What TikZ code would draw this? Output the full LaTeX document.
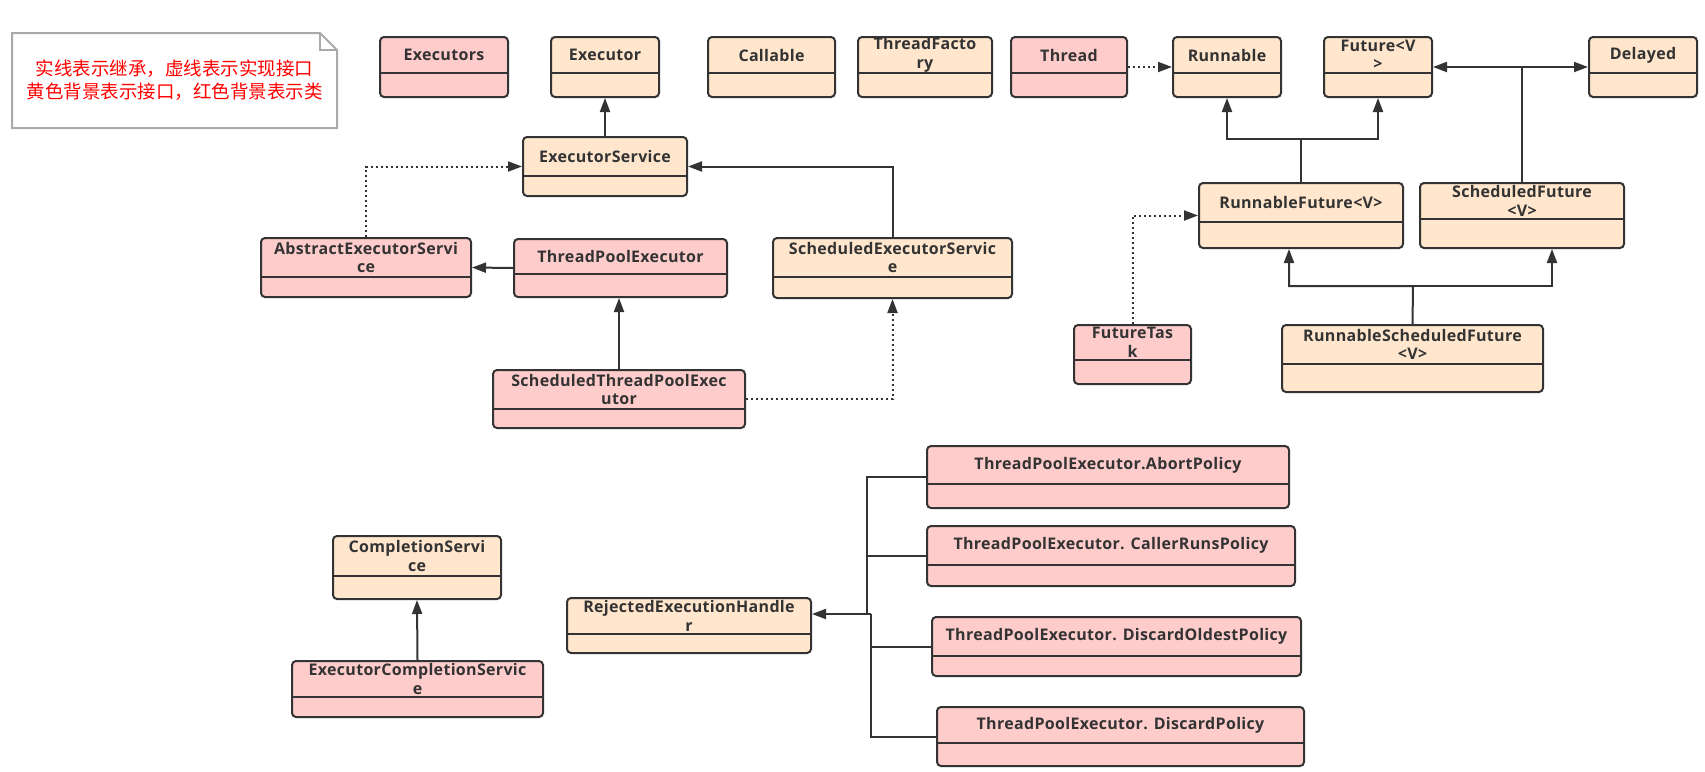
\documentclass[tikz,border=0pt]{standalone}
\usepackage{fontspec}
\setmainfont{Open Sans}[LetterSpace=2.0]
\newfontfamily\cjkfont{Noto Sans CJK SC}
\usetikzlibrary{arrows.meta}
\definecolor{pinkfill}{HTML}{FFCCCC}
\definecolor{yellowfill}{HTML}{FFE6CC}
\definecolor{linec}{HTML}{333333}
\definecolor{notegray}{HTML}{AAAAAA}
\definecolor{notered}{HTML}{FF0000}
\tikzset{
  umlshape/.style={draw=linec, line width=2pt, rounded corners=4pt, inner sep=0pt},
  cls/.style={fill=pinkfill},
  intf/.style={fill=yellowfill},
  divline/.style={draw=linec, line width=2pt},
  boxtext/.style={text=linec, font=\bfseries\fontsize{16}{18.5}\selectfont, align=center, inner sep=0pt},
  conn/.style={draw=linec, line width=2pt},
  inh/.style={conn, -{Triangle[length=14pt,width=10pt]}},
  impl/.style={inh, dash pattern=on 2pt off 3pt},
  notetext/.style={text=notered, font=\cjkfont\fontsize{18.5}{23}\selectfont, align=center, inner sep=0pt},
}
\newcommand\umlbox[8]{%
  \node[umlshape,#7,minimum width={#4-#2},minimum height={#5-#3}] (#1) at ({(#2+#4)/2},{(#3+#5)/2}) {};
  \draw[divline] (#2,#6) -- (#4,#6);
  \node[boxtext] (#1-label) at ({(#2+#4)/2},{(#3+#6)/2}) {#8};
}
\begin{document}
\begin{tikzpicture}[x=1pt,y=-1pt]
\useasboundingbox[fill=white] (0,0) rectangle (1705,771);

% note
\draw[notegray, line width=2pt, fill=white, line join=miter] (12,33) -- (320,33) -- (337,50) -- (337,128) -- (12,128) -- cycle;
\draw[notegray, line width=2pt] (320,33) -- (320,50) -- (337,50);
\node[notetext] (note) at (174.5,80.5) {实线表示继承，虚线表示实现接口\\黄色背景表示接口，红色背景表示类};

% top row
\umlbox{executors}{380}{37}{508}{97}{73}{cls}{Executors}
\umlbox{executor}{551}{37}{659}{97}{73}{intf}{Executor}
\umlbox{callable}{708}{37}{835}{97}{73}{intf}{Callable}
\umlbox{threadfactory}{858}{37}{992}{97}{73}{intf}{ThreadFacto\\ry}
\umlbox{thread}{1011}{37}{1127}{97}{73}{cls}{Thread}
\umlbox{runnable}{1173}{37}{1281}{97}{73}{intf}{Runnable}
\umlbox{future}{1324}{37}{1432}{97}{73}{intf}{Future<V\\>}
\umlbox{delayed}{1589}{37}{1697}{97}{73}{intf}{Delayed}

% executor family
\umlbox{es}{523}{137}{687}{196}{176}{intf}{ExecutorService}
\umlbox{aes}{261}{238}{471}{297}{277}{cls}{AbstractExecutorServi\\ce}
\umlbox{tpe}{514}{239}{727}{297}{274}{cls}{ThreadPoolExecutor}
\umlbox{ses}{773}{238}{1012}{298}{277}{intf}{ScheduledExecutorServic\\e}
\umlbox{stpe}{493}{370}{745}{428}{409}{cls}{ScheduledThreadPoolExec\\utor}

% future family
\umlbox{rf}{1199}{183}{1403}{248}{222}{intf}{RunnableFuture<V>}
\umlbox{sf}{1420}{183}{1624}{248}{219}{intf}{ScheduledFuture\\<V>}
\umlbox{ft}{1074}{325}{1191}{384}{360}{cls}{FutureTas\\k}
\umlbox{rsf}{1282}{325}{1543}{392}{364}{intf}{RunnableScheduledFuture\\<V>}

% completion
\umlbox{cs}{333}{536}{501}{599}{576}{intf}{CompletionServi\\ce}
\umlbox{ecs}{292}{661}{543}{717}{697}{cls}{ExecutorCompletionServic\\e}

% rejected handlers
\umlbox{reh}{567}{598}{811}{653}{634}{intf}{RejectedExecutionHandle\\r}
\umlbox{abort}{927}{446}{1289}{508}{484}{cls}{ThreadPoolExecutor.AbortPolicy}
\umlbox{caller}{927}{526}{1295}{586}{565}{cls}{ThreadPoolExecutor. CallerRunsPolicy}
\umlbox{oldest}{932}{617}{1301}{676}{656}{cls}{ThreadPoolExecutor. DiscardOldestPolicy}
\umlbox{discard}{937}{707}{1304}{766}{743}{cls}{ThreadPoolExecutor. DiscardPolicy}

% connectors: executor family
\draw[inh] (es.north) -- (executor.south);
\draw[impl] (aes.north) |- (es.west);
\draw[inh] (ses.north) |- (es.east);
\draw[inh] (tpe.west) -- (aes.east);
\draw[inh] (stpe.north) -- (stpe.north |- tpe.south);
\draw[impl] (stpe.east) -| (ses.south);

% connectors: runnable / future
\draw[impl] (thread.east) -- (runnable.west);
\coordinate (rfj) at (1301,139);
\draw[inh] (rf.north) -- (rfj) -| (runnable.south);
\draw[inh] (rfj) -| (future.south);
\draw[inh] (sf.north) |- (future.east);
\draw[inh] (sf.north) |- (delayed.west);
\draw[impl] (ft.north) |- (rf.west);
\coordinate (rsfj) at (1413,286);
\draw[inh] (rsf.north) -- (rsfj) -| ([xshift=-12pt]rf.south);
\draw[inh] (rsfj) -| ([xshift=30pt]sf.south);

% connectors: completion
\draw[inh] (ecs.north) -- (cs.south);

% connectors: rejected handlers
\coordinate (rehj) at ([yshift=11.5pt]reh.east);
\coordinate (trunka) at (867,614);
\coordinate (trunkb) at (871,614);
\draw[conn] (abort.west) -| (trunka);
\draw[conn] (caller.west) -- (caller.west -| trunka);
\draw[conn] (oldest.west) -| (trunkb);
\draw[conn] (discard.west) -| (trunkb);
\draw[conn] (trunkb) -- (trunka);
\draw[inh] (trunka) -- (rehj);
\end{tikzpicture}
\end{document}
